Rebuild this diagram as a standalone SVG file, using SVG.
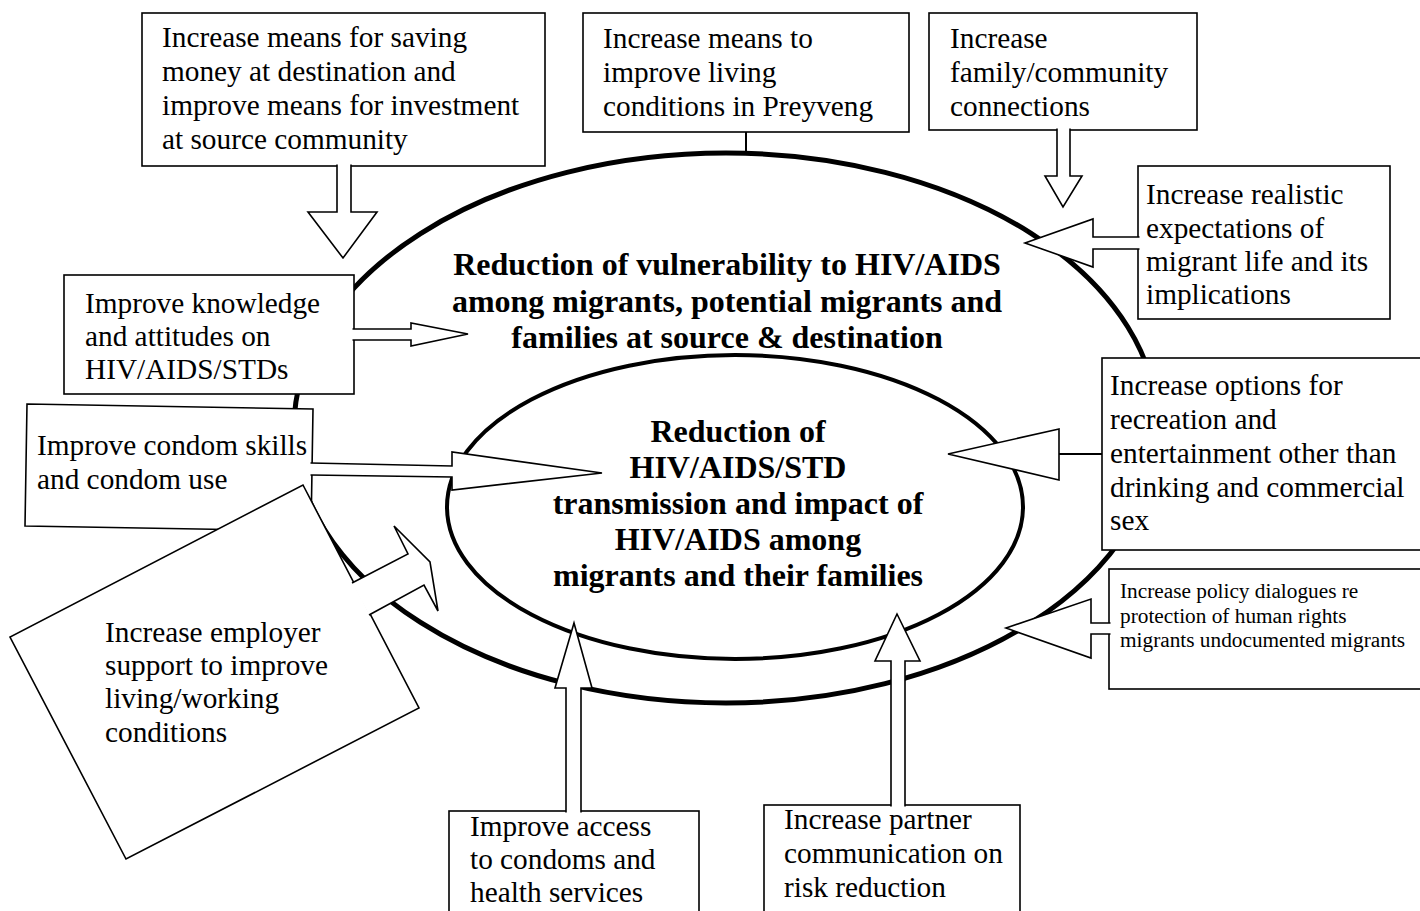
<svg xmlns="http://www.w3.org/2000/svg" width="1420" height="911" viewBox="0 0 1420 911">
<style>
.bx{fill:#fff;stroke:#000;stroke-width:1.6}
.ar{fill:#fff;stroke:#000;stroke-width:1.6;stroke-linejoin:miter}
.ln{fill:none;stroke:#000;stroke-width:2}
.el{fill:none;stroke:#000}
text{font-family:"Liberation Serif","Times New Roman",Tinos,"DejaVu Serif",serif;fill:#000}
.t{font-size:29.3px}
.s{font-size:21.3px}
.b{font-size:32px;font-weight:bold;text-anchor:middle}
</style>
<rect x="0" y="0" width="1420" height="911" fill="#fff"/>
<g id="outer-goal">
<ellipse class="el" cx="726" cy="428" rx="432" ry="275" stroke-width="5"/>
<text class="b" x="727" y="275">Reduction of vulnerability to HIV/AIDS</text>
<text class="b" x="727" y="312">among migrants, potential migrants and</text>
<text class="b" x="727" y="348">families at source &amp; destination</text>
</g>
<g id="inner-goal">
<ellipse class="el" cx="735" cy="507" rx="288" ry="152" stroke-width="4"/>
<text class="b" x="738" y="442">Reduction of</text>
<text class="b" x="738" y="478">HIV/AIDS/STD</text>
<text class="b" x="738" y="514">transmission and impact of</text>
<text class="b" x="738" y="550">HIV/AIDS among</text>
<text class="b" x="738" y="586">migrants and their families</text>
</g>
<g id="box-saving">
<rect class="bx" x="142" y="13" width="403" height="153"/>
<text class="t" x="162" y="47">Increase means for saving</text>
<text class="t" x="162" y="81">money at destination and</text>
<text class="t" x="162" y="115">improve means for investment</text>
<text class="t" x="162" y="149">at source community</text>
</g>
<g id="box-living">
<rect class="bx" x="583" y="13" width="326" height="119"/>
<text class="t" x="603" y="48">Increase means to</text>
<text class="t" x="603" y="82">improve living</text>
<text class="t" x="603" y="116">conditions in Preyveng</text>
</g>
<g id="box-family">
<rect class="bx" x="929" y="13" width="268" height="117"/>
<text class="t" x="950" y="48">Increase</text>
<text class="t" x="950" y="82">family/community</text>
<text class="t" x="950" y="116">connections</text>
</g>
<g id="box-expectations">
<rect class="bx" x="1138" y="166" width="252" height="153"/>
<text class="t" x="1146" y="204">Increase realistic</text>
<text class="t" x="1146" y="238">expectations of</text>
<text class="t" x="1146" y="271">migrant life and its</text>
<text class="t" x="1146" y="304">implications</text>
</g>
<g id="box-recreation">
<rect class="bx" x="1102" y="358" width="320" height="192"/>
<text class="t" x="1110" y="395">Increase options for</text>
<text class="t" x="1110" y="429">recreation and</text>
<text class="t" x="1110" y="463">entertainment other than</text>
<text class="t" x="1110" y="497">drinking and commercial</text>
<text class="t" x="1110" y="530">sex</text>
</g>
<g id="box-policy">
<rect class="bx" x="1109" y="569" width="313" height="120"/>
<text class="s" x="1120" y="598">Increase policy dialogues re</text>
<text class="s" x="1120" y="623">protection of human rights</text>
<text class="s" x="1120" y="647">migrants undocumented migrants</text>
</g>
<g id="box-knowledge">
<rect class="bx" x="64" y="275" width="290" height="119"/>
<text class="t" x="85" y="313">Improve knowledge</text>
<text class="t" x="85" y="346">and attitudes on</text>
<text class="t" x="85" y="379">HIV/AIDS/STDs</text>
</g>
<g id="box-condom-skills">
<polygon class="bx" points="27,404 313,409 311,531 25,526"/>
<text class="t" x="37" y="455">Improve condom skills</text>
<text class="t" x="37" y="489">and condom use</text>
</g>
<g id="box-employer">
<polygon class="bx" points="303,485 419,708 126,859 10,637"/>
<text class="t" x="105" y="642">Increase employer</text>
<text class="t" x="105" y="675">support to improve</text>
<text class="t" x="105" y="708">living/working</text>
<text class="t" x="105" y="742">conditions</text>
</g>
<g id="box-access">
<rect class="bx" x="449" y="811" width="250" height="110"/>
<text class="t" x="470" y="836">Improve access</text>
<text class="t" x="470" y="869">to condoms and</text>
<text class="t" x="470" y="902">health services</text>
</g>
<g id="box-partner">
<rect class="bx" x="764" y="805" width="256" height="116"/>
<text class="t" x="784" y="829">Increase partner</text>
<text class="t" x="784" y="863">communication on</text>
<text class="t" x="784" y="897">risk reduction</text>
</g>
<g id="connectors">
<path class="ar" d="M337,164.5 V212 H308 L343,258 L377,212 H351 V164.5"/>
<line class="ln" x1="746" y1="132" x2="746" y2="153"/>
<path class="ar" d="M1057,128.5 V176 H1045 L1063,207 L1082,176 H1070 V128.5"/>
<path class="ar" d="M1139.5,237 H1093 V219 L1025,243 L1093,267 V249 H1139.5"/>
<line class="ln" x1="1102" y1="454" x2="1059" y2="454"/>
<polygon class="ar" points="1059,429 948,454 1059,480"/>
<path class="ar" d="M1110.5,623 H1091 V599 L1006,628 L1091,658 V634 H1110.5"/>
<path class="ar" d="M352.5,329 H411 V323 L468,334 L411,346 V340 H352.5"/>
<path class="ar" d="M310.5,463 L452,466 L452,452 L602,473 L452,490 L452,477 L310.5,475"/>
<path class="ar" d="M352,583 L408,554 L394,526 L430,562 L438,611 L424,585 L369,615"/>
<path class="ar" d="M566,812.5 V688 H555 L574,623 L592,688 H581 V812.5"/>
<path class="ar" d="M891,806.5 V661 H875 L897,614 L920,661 H905 V806.5"/>
</g>
</svg>
